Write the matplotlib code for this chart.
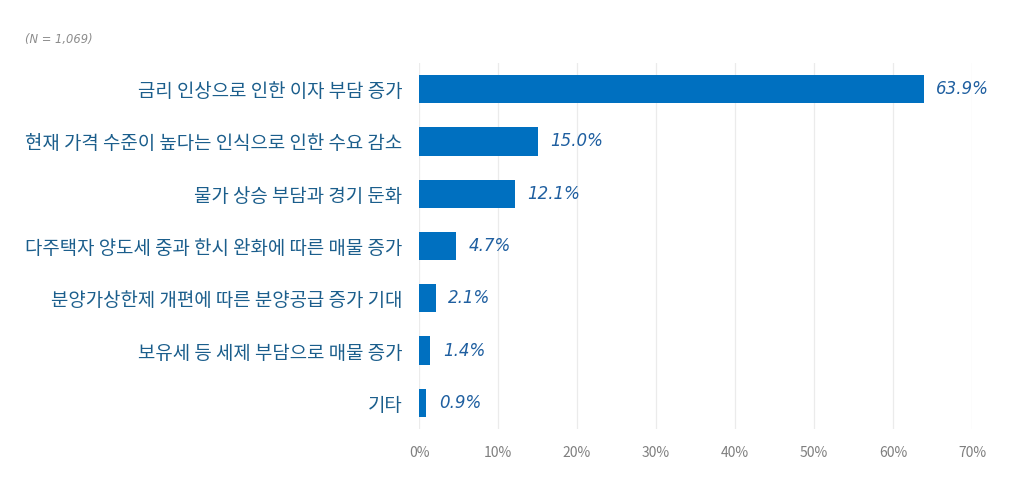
import matplotlib
matplotlib.use("Agg")
import matplotlib.pyplot as plt
from matplotlib.ticker import FuncFormatter

plt.rcParams['font.family'] = ['Noto Sans CJK KR', 'DejaVu Sans']

categories = [
    "금리 인상으로 인한 이자 부담 증가",
    "현재 가격 수준이 높다는 인식으로 인한 수요 감소",
    "물가 상승 부담과 경기 둔화",
    "다주택자 양도세 중과 한시 완화에 따른 매물 증가",
    "분양가상한제 개편에 따른 분양공급 증가 기대",
    "보유세 등 세제 부담으로 매물 증가",
    "기타",
]
values = [63.9, 15.0, 12.1, 4.7, 2.1, 1.4, 0.9]
xticks = [0, 10, 20, 30, 40, 50, 60, 70]
note = "(N = 1,069)"

fig = plt.figure(figsize=(10.17, 4.86), dpi=100)
ax = fig.add_axes([419/1017, 57/486, (972-419)/1017, (429-63)/486])

ypos = list(range(len(categories)))
ax.barh(ypos, values, height=0.54, color='#0070C0', zorder=3)
ax.set_ylim(len(categories) - 0.5, -0.5)
ax.set_xlim(0, 70)
ax.set_xticks(xticks)
ax.xaxis.set_major_formatter(FuncFormatter(lambda v, p: f"{v:.0f}%"))
ax.set_yticks(ypos)
ax.set_yticklabels(categories, fontsize=13.6, color='#1B5E8C')
ax.tick_params(axis='y', length=0, pad=12)
ax.tick_params(axis='x', length=0, pad=12, labelsize=10, labelcolor='#7f7f7f')
ax.grid(axis='x', color='#ebebeb', linewidth=0.9, zorder=0)
for s in ax.spines.values():
    s.set_visible(False)

for y, v in zip(ypos, values):
    ax.text(v + 1.6, y, f"{v:.1f}%", va='center', ha='left', fontsize=12,
            style='italic', color='#1F5FA0', family=['DejaVu Sans'])

fig.text(25/1017, 1 - 39/486, note, fontsize=8.3, style='italic', color='#8c8c8c',
         va='center', ha='left', family=['DejaVu Sans'])

fig.savefig("out.png", dpi=100)
